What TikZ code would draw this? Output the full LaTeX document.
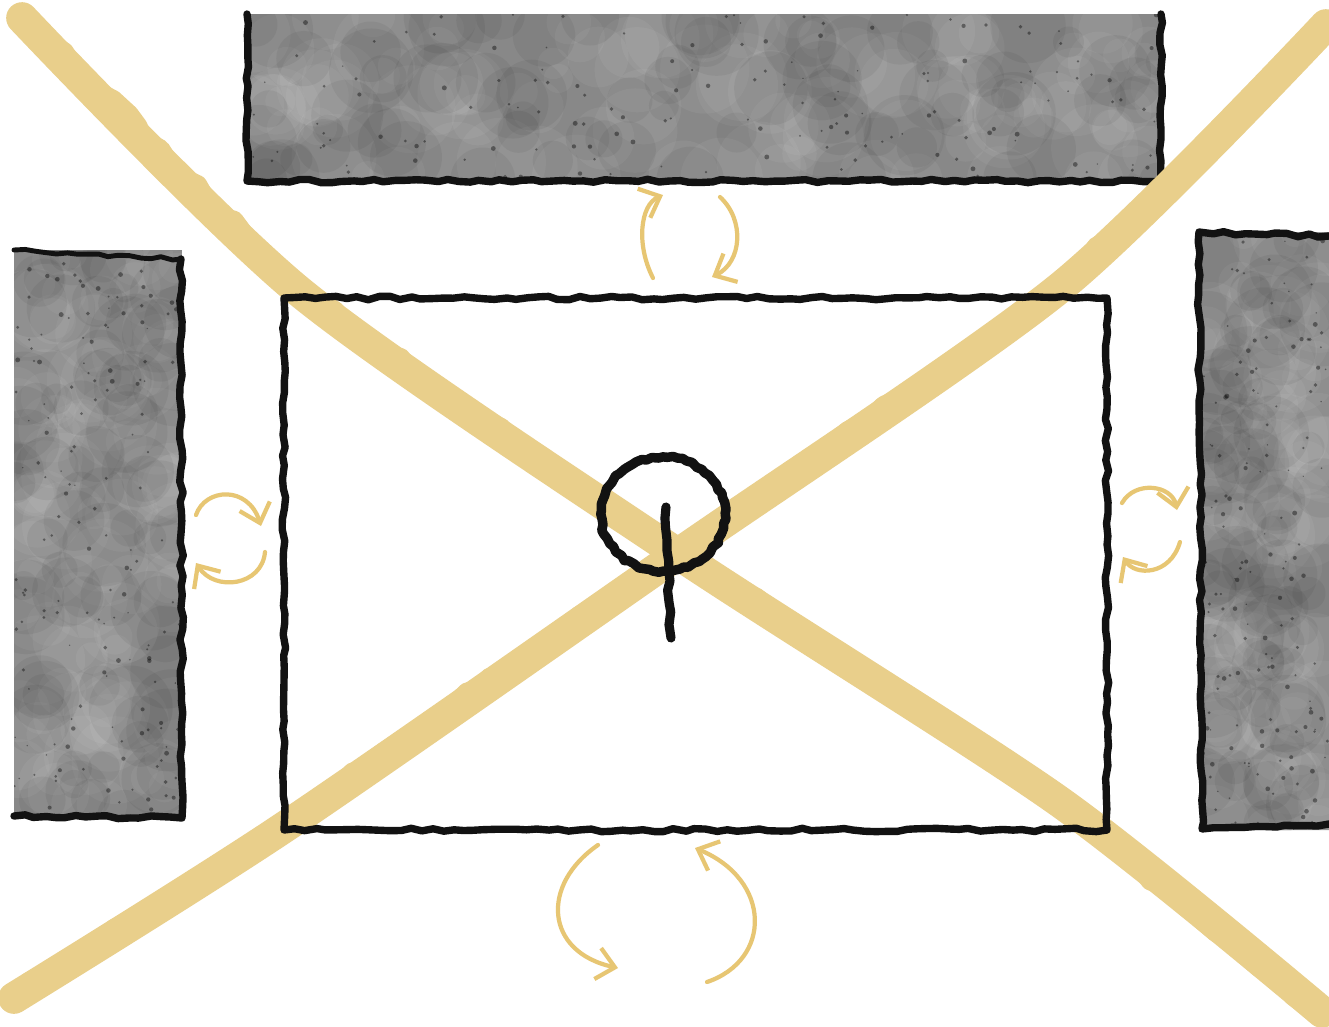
\documentclass[tikz,border=0pt]{standalone}
\usetikzlibrary{arrows.meta,decorations.pathmorphing}
\definecolor{chalkyellow}{HTML}{E9CF8B}
\definecolor{arcyellow}{HTML}{E7C673}
\definecolor{blockgray}{HTML}{888888}
\definecolor{inkblack}{HTML}{121212}

\begin{document}
\begin{tikzpicture}[
  x=0.01cm, y=-0.01cm,
  crayon/.style={
    draw=inkblack,
    line width=2.1pt,
    line cap=round,
    line join=round,
    decorate,
    decoration={random steps, segment length=3pt, amplitude=0.5pt}
  },
  chalkstroke/.style={
    draw=chalkyellow,
    line width=9pt,
    line cap=round,
    line join=round
  },
  chalkrough/.style={
    draw=chalkyellow,
    line width=6pt,
    line cap=round,
    line join=round,
    decorate,
    decoration={random steps, segment length=5pt, amplitude=1.4pt}
  },
  turn/.style={
    draw=arcyellow,
    line width=1.2pt,
    line cap=round,
    -{Straight Barb[length=5pt,width=9pt]}
  }
]
  \useasboundingbox[fill=white] (0,0) rectangle (1329,1026);

  % --- Gray blocks with mottled texture ---
  \pgfmathsetseed{42}
  \foreach \xa/\ya/\xb/\yb in {247/14/1162/182, 14/250/182/818, 1200/232/1329/830}{
    \begin{scope}
      \clip (\xa,\ya) rectangle (\xb,\yb);
      \fill[blockgray] (\xa,\ya) rectangle (\xb,\yb);
      \foreach \k in {1,...,120}{
        \pgfmathsetmacro{\rr}{4+9*rnd}
        \fill[white, opacity=0.05] ({\xa+rnd*(\xb-\xa)},{\ya+rnd*(\yb-\ya)}) circle (\rr pt);
      }
      \foreach \k in {1,...,80}{
        \pgfmathsetmacro{\rr}{4+8*rnd}
        \fill[black, opacity=0.05] ({\xa+rnd*(\xb-\xa)},{\ya+rnd*(\yb-\ya)}) circle (\rr pt);
      }
      \foreach \k in {1,...,160}{
        \pgfmathsetmacro{\rr}{0.2+0.5*rnd}
        \fill[black, opacity=0.4] ({\xa+rnd*(\xb-\xa)},{\ya+rnd*(\yb-\ya)}) circle (\rr pt);
      }
    \end{scope}
  }

  % Block borders (open towards the page edge)
  \draw[crayon] (247,14) -- (247,181) -- (1161,181) -- (1161,14);
  \draw[crayon, line width=1.4pt] (14,250) -- (181,259);
  \draw[crayon] (181,259) -- (182,818) -- (14,816);
  \draw[crayon] (1329,236) -- (1199,232) -- (1202,829) -- (1329,824);

  % --- Yellow cross ---
  \draw[chalkstroke] plot[smooth, tension=0.45] coordinates
    {(22,18) (300,292) (678,554) (1060,802) (1322,1012)};
  \draw[chalkstroke] plot[smooth, tension=0.45] coordinates
    {(14,998) (283,828) (678,554) (1062,286) (1326,25)};
  \draw[chalkrough] (22,18) -- (160,150) -- (300,292) -- (480,420) -- (678,554)
    -- (870,676) -- (1060,802) -- (1190,906) -- (1322,1012);
  \draw[chalkrough] (14,998) -- (150,912) -- (283,828) -- (480,690) -- (678,554)
    -- (870,420) -- (1062,286) -- (1200,155) -- (1326,25);

  % --- Central frame and mark ---
  \draw[crayon] (284,298) rectangle (1107,830);
  \draw[crayon, line width=2.7pt, decoration={random steps, segment length=1.5pt, amplitude=0.4pt}]
    (663,514) circle[x radius=0.62cm, y radius=0.57cm];
  \draw[crayon, line width=2.6pt] (666,507) -- (671,638);

  % --- Rotation arrows ---
  % top
  \draw[turn] (653,278) .. controls (636,245) and (640,205) .. (663,195);
  \draw[turn] (720,197) .. controls (745,220) and (742,262) .. (712,277);
  % left
  \draw[turn] (196,515) .. controls (205,488) and (248,485) .. (261,526);
  \draw[turn] (265,552) .. controls (262,586) and (215,592) .. (196,563);
  % right
  \draw[turn] (1122,503) .. controls (1135,480) and (1172,485) .. (1177,510);
  \draw[turn] (1180,542) .. controls (1170,576) and (1135,576) .. (1123,557);
  % bottom
  \draw[turn] (598,845) .. controls (540,885) and (545,952) .. (618,968);
  \draw[turn] (707,982) .. controls (772,960) and (772,880) .. (695,848);

\end{tikzpicture}
\end{document}
